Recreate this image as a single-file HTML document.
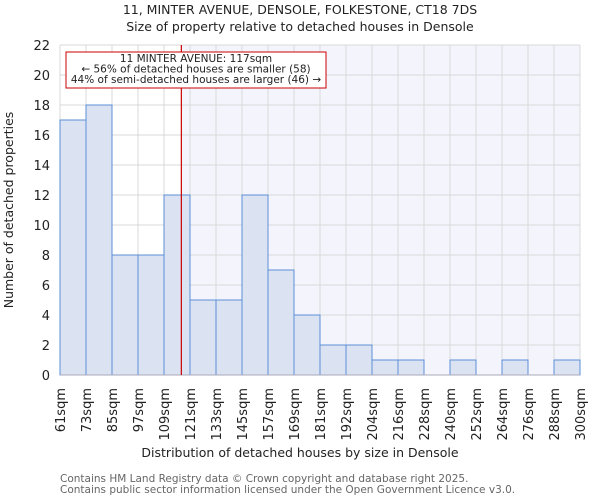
<!DOCTYPE html>
<html><head><meta charset="utf-8"><style>
body{margin:0;background:#fff;font-family:"DejaVu Sans","Liberation Sans",sans-serif;}
svg text{font-family:"DejaVu Sans","Liberation Sans",sans-serif;fill:#222;}
</style></head><body>
<svg id="chart" width="600" height="500">
<text x="300" y="14" text-anchor="middle" font-size="12.5">11, MINTER AVENUE, DENSOLE, FOLKESTONE, CT18 7DS</text>
<text x="300" y="31" text-anchor="middle" font-size="12.5">Size of property relative to detached houses in Densole</text>
<g id="plot"></g>
<text x="300" y="457" text-anchor="middle" font-size="12.5">Distribution of detached houses by size in Densole</text>
<text transform="translate(13,210) rotate(-90)" text-anchor="middle" font-size="12.5">Number of detached properties</text>
<text x="60" y="482" font-size="10.5" style="fill:#666">Contains HM Land Registry data © Crown copyright and database right 2025.</text>
<text x="60" y="493" font-size="10.5" style="fill:#666">Contains public sector information licensed under the Open Government Licence v3.0.</text>
</svg>
<script>
const binLabels=["61sqm","73sqm","85sqm","97sqm","109sqm","121sqm","133sqm","145sqm","157sqm","169sqm","181sqm","192sqm","204sqm","216sqm","228sqm","240sqm","252sqm","264sqm","276sqm","288sqm","300sqm"];
const counts=[17,18,8,8,12,5,5,12,7,4,2,2,1,1,0,1,0,1,0,1];
const yTicks=[0,2,4,6,8,10,12,14,16,18,20,22];
const markerBinPos=4.667;
const NS="http://www.w3.org/2000/svg";
const X0=60,X1=580,Y0=375,Y1=45,YMAX=22;
const nb=counts.length;
const xs=i=>X0+(X1-X0)*i/nb;
const ys=v=>Y0-(Y0-Y1)*v/YMAX;
const g=document.getElementById('plot');
function mk(t,a){const e=document.createElementNS(NS,t);for(const k in a)e.setAttribute(k,a[k]);g.appendChild(e);return e;}
let e=mk('rect',{x:X0,y:Y1,width:X1-X0,height:Y0-Y1,fill:'#fff'});


const mx=xs(markerBinPos);
e=mk('rect',{x:mx,y:Y1,width:X1-mx,height:Y0-Y1,fill:'#f4f5fc'});


yTicks.forEach(t=>{
 const l=mk('line',{x1:X0,x2:X1,y1:ys(t),y2:ys(t),stroke:'#d9d9d9','stroke-width':1});
 
 
 const tx=mk('text',{x:X0-10,y:ys(t)+5,'text-anchor':'end','font-size':13});
 tx.textContent=t;
 
 
});
binLabels.forEach((lb,i)=>{
 const l=mk('line',{x1:xs(i),x2:xs(i),y1:Y1,y2:Y0,stroke:'#d9d9d9','stroke-width':1});
 
 
 const tx=mk('text',{transform:`translate(${xs(i)+5},388) rotate(-90)`,'text-anchor':'end','font-size':13});
 tx.textContent=lb;
 
 
});
counts.forEach((c,i)=>{
 if(c<=0)return;
 const r=mk('rect',{x:xs(i),y:ys(c),width:xs(i+1)-xs(i),height:Y0-ys(c),fill:'#dbe3f3',stroke:'#5b8fd6','stroke-width':1});
 
 
});
e=mk('line',{x1:X0,x2:X1,y1:Y0,y2:Y0,stroke:'#aab','stroke-width':1});


e=mk('line',{x1:mx,x2:mx,y1:Y1,y2:Y0,stroke:'#cc0000','stroke-width':1.2});


e=mk('rect',{x:66,y:52,width:260,height:36,fill:'#fff',stroke:'#cc0000','stroke-width':1});


["11 MINTER AVENUE: 117sqm","← 56% of detached houses are smaller (58)","44% of semi-detached houses are larger (46) →"].forEach((s,k)=>{
 const t=mk('text',{x:196,y:62+k*10.5,'text-anchor':'middle','font-size':10.5});
 t.textContent=s;
 
 
});
</script>
</body></html>
